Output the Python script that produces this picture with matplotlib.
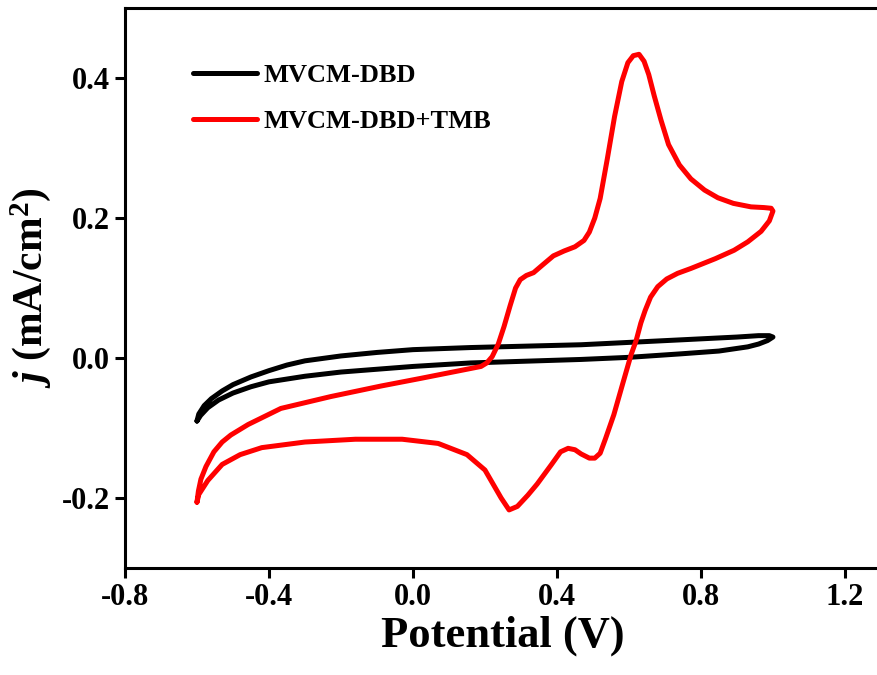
import matplotlib
matplotlib.use("Agg")
import matplotlib.pyplot as plt

# MVCM-DBD (black loop), potential in V, current density in mA/cm2
dbd_v = [-0.600, -0.595, -0.58, -0.56, -0.53, -0.50, -0.45, -0.40, -0.35, -0.30, -0.20, -0.10, 0.0, 0.16, 0.467,
         0.744, 0.90, 0.96, 0.99, 1.000,
         0.985, 0.96, 0.93, 0.85, 0.744, 0.60, 0.467, 0.16, 0.0, -0.10, -0.20, -0.30, -0.40, -0.45, -0.50, -0.54,
         -0.57, -0.59, -0.600]
dbd_j = [-0.090, -0.080, -0.068, -0.058, -0.047, -0.038, -0.027, -0.018, -0.010, -0.004, 0.003, 0.008, 0.012, 0.015, 0.019,
         0.026, 0.030, 0.032, 0.032, 0.030,
         0.025, 0.020, 0.016, 0.010, 0.006, 0.001, -0.002, -0.007, -0.012, -0.016, -0.020, -0.026, -0.034, -0.041, -0.050, -0.060,
         -0.071, -0.082, -0.090]

# MVCM-DBD+TMB (red loop)
tmb_v = [-0.600, -0.596, -0.589, -0.575, -0.553, -0.53, -0.506, -0.458, -0.367, -0.228, -0.089, 0.022, 0.189,
         0.205, 0.22, 0.237, 0.253, 0.27, 0.285, 0.298, 0.315, 0.335, 0.36, 0.39, 0.42, 0.45, 0.475, 0.49, 0.505,
         0.52, 0.54, 0.56, 0.58, 0.597, 0.612, 0.628, 0.642, 0.655, 0.67, 0.689, 0.71, 0.74, 0.772, 0.81, 0.847,
         0.89, 0.939, 0.975, 0.995, 1.000,
         0.99, 0.967, 0.93, 0.892, 0.84, 0.772, 0.735, 0.705, 0.68, 0.66, 0.645, 0.633, 0.62, 0.606, 0.583,
         0.558, 0.535, 0.52, 0.505, 0.49, 0.467, 0.45, 0.431, 0.41, 0.385, 0.345, 0.319, 0.29, 0.267, 0.245,
         0.20, 0.15, 0.07, -0.03, -0.16, -0.30, -0.42, -0.48, -0.53, -0.57, -0.595, -0.600]
tmb_j = [-0.206, -0.190, -0.173, -0.155, -0.134, -0.120, -0.110, -0.095, -0.072, -0.055, -0.040, -0.029, -0.012,
         -0.007, 0.002, 0.020, 0.045, 0.075, 0.100, 0.112, 0.118, 0.122, 0.133, 0.146, 0.153, 0.159, 0.168, 0.180, 0.200,
         0.228, 0.285, 0.345, 0.395, 0.422, 0.432, 0.434, 0.424, 0.405, 0.375, 0.340, 0.305, 0.276, 0.256, 0.240, 0.229,
         0.221, 0.216, 0.215, 0.214, 0.210,
         0.196, 0.181, 0.166, 0.154, 0.142, 0.128, 0.121, 0.113, 0.102, 0.087, 0.068, 0.050, 0.025, 0.005, -0.036,
         -0.081, -0.115, -0.136, -0.143, -0.143, -0.137, -0.131, -0.129, -0.134, -0.152, -0.180, -0.196, -0.212, -0.217, -0.200,
         -0.160, -0.138, -0.122, -0.116, -0.116, -0.120, -0.128, -0.138, -0.152, -0.175, -0.195, -0.206]

x_ticks = [-0.8, -0.4, 0.0, 0.4, 0.8, 1.2]
y_ticks = [-0.2, 0.0, 0.2, 0.4]

plt.rcParams['font.family'] = ['Liberation Serif', 'DejaVu Serif']
plt.rcParams['font.weight'] = 'bold'
plt.rcParams['mathtext.fontset'] = 'custom'
plt.rcParams['mathtext.rm'] = 'Liberation Serif:bold'
plt.rcParams['mathtext.it'] = 'Liberation Serif:bold:italic'
plt.rcParams['mathtext.bf'] = 'Liberation Serif:bold'

fig = plt.figure(figsize=(8.77, 6.75), dpi=100)
ax = fig.add_axes([0.1425, 0.1585, 0.862, 0.8295])

ax.plot(dbd_v, dbd_j, color='black', lw=3.6, solid_joinstyle='round', solid_capstyle='round', label='MVCM-DBD')
ax.plot(tmb_v, tmb_j, color='#ff0000', lw=3.6, solid_joinstyle='round', solid_capstyle='round', label='MVCM-DBD+TMB')

ax.set_xlim(-0.8, 1.3)
ax.set_ylim(-0.3, 0.5)
ax.set_xticks(x_ticks)
ax.set_yticks(y_ticks)
ax.set_xticklabels([f"{t:.1f}" for t in x_ticks])
ax.set_yticklabels([f"{t:.1f}" for t in y_ticks])

for s in ax.spines.values():
    s.set_linewidth(2.2)
ax.tick_params(direction='out', length=7, width=2.2, labelsize=22, pad=4)
for lbl in ax.get_xticklabels() + ax.get_yticklabels():
    lbl.set_fontweight('bold')

ax.set_xlabel('Potential (V)', fontsize=32, fontweight='bold', labelpad=2)
ax.set_ylabel(r'$\it{j}$ (mA/cm$^{2}$)', fontsize=30, fontweight='bold', labelpad=6)

leg = ax.legend(loc='upper left', bbox_to_anchor=(0.059, 0.943), frameon=False,
                prop={'family': 'Liberation Serif', 'weight': 'bold', 'size': 19},
                handlelength=2.4, handletextpad=0.25, labelspacing=0.85)

fig.savefig('out.png', dpi=100)
